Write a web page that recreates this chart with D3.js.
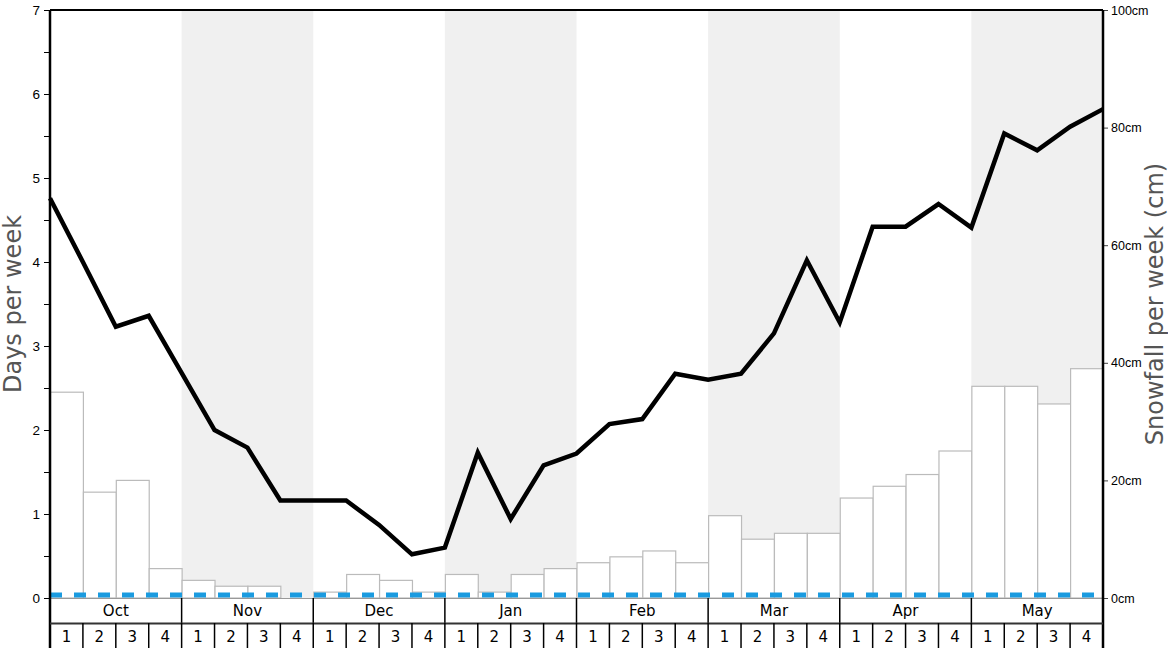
<!DOCTYPE html>
<html>
<head>
<meta charset="utf-8">
<script src="https://cdn.jsdelivr.net/npm/d3@7"></script>
<style>
  body { margin: 0; background: #fff; }
  svg { display: block; font-family: "DejaVu Sans", sans-serif; }
</style>
</head>
<body>
<div id="chart"></div>
<script>
// months and week labels
const months = ["Oct", "Nov", "Dec", "Jan", "Feb", "Mar", "Apr", "May"];
const weekLabels = ["1", "2", "3", "4"];

// snowfall per week (cm), one per week
const snowfall = [
	35, 18, 20, 5,
	3, 2, 2, 0,
	1, 4, 3, 1,
	4, 1, 4, 5,
	6, 7, 8, 6,
	14, 10, 11, 11,
	17, 19, 21, 25,
	36, 36, 33, 39
];

// days per week, one point at each week boundary
const days = [
	4.76, 4.0, 3.23, 3.36, 2.68, 2.0, 1.79, 1.16, 1.16,
	1.16, 0.87, 0.52, 0.6, 1.73, 0.94, 1.58, 1.72,
	2.07, 2.13, 2.67, 2.6, 2.67, 3.15, 4.02, 3.28,
	4.42, 4.42, 4.69, 4.41, 5.53, 5.33, 5.61, 5.82
];

const dayTicks = d3.range(0, 7.01, 0.5);
const cmTicks = [0, 20, 40, 60, 80, 100];

const W = 1168, H = 648;
const mLeft = 50, mRight = 1103, mTop = 10, mBottom = 598;

const svg = d3.select("#chart").append("svg")
	.attr("width", W)
	.attr("height", H);

const weeks = [];
months.forEach((m) => weekLabels.forEach((w) => weeks.push(`${m}-${w}`)));

const x = d3.scaleLinear().domain([0, weeks.length]).range([mLeft, mRight]);
const xBand = d3.scaleBand().domain(weeks).range([mLeft, mRight]).padding(0);
const xMonth = d3.scaleBand().domain(months).range([mLeft, mRight]).padding(0);
const yDays = d3.scaleLinear().domain([0, 7]).range([mBottom, mTop]);
const yCm = d3.scaleLinear().domain([0, 100]).range([mBottom, mTop]);

/*
Alternate month shading
*/
svg.append("g")
	.selectAll("rect")
	.data(months.filter((d, i) => i % 2 == 1))
	.enter()
	.append("rect")
	.attr("x", (d) => xMonth(d))
	.attr("y", mTop)
	.attr("width", xMonth.bandwidth())
	.attr("height", mBottom - mTop)
	.attr("fill", "#f0f0f0");

/*
Snowfall bars
*/
svg.append("g")
	.selectAll("rect")
	.data(snowfall)
	.enter()
	.append("rect")
	.attr("x", (d, i) => xBand(weeks[i]) + 0.5)
	.attr("y", (d) => yCm(d))
	.attr("width", xBand.bandwidth())
	.attr("height", (d) => mBottom - yCm(d))
	.attr("fill", (d) => d > 0 ? "#fff" : "none")
	.attr("stroke", (d) => d > 0 ? "#bbb" : "none")
	.attr("stroke-width", 1.2);

// zero baseline
svg.append("line")
	.attr("x1", mLeft).attr("x2", mRight)
	.attr("y1", mBottom + 0.5).attr("y2", mBottom + 0.5)
	.attr("stroke", "#999")
	.attr("stroke-width", 1);

// blue dashed line near zero
svg.append("line")
	.attr("x1", mLeft).attr("x2", mRight)
	.attr("y1", mBottom - 3).attr("y2", mBottom - 3)
	.attr("stroke", "#1a9be0")
	.attr("stroke-width", 5)
	.attr("stroke-dasharray", "12,12");

/*
Days per week line
*/
const line = d3.line()
	.x((d, i) => x(i))
	.y((d) => yDays(d));
svg.append("path")
	.datum(days)
	.attr("d", line)
	.attr("fill", "none")
	.attr("stroke", "#000")
	.attr("stroke-width", 4.5)
	.attr("stroke-linejoin", "miter");

/*
Axes
*/
const leftAxis = svg.append("g")
	.attr("transform", `translate(${mLeft},0)`)
	.call(d3.axisLeft(yDays)
		.tickValues(dayTicks)
		.tickSize(6)
		.tickPadding(4)
		.tickFormat((d) => d % 1 == 0 ? d : ""));
leftAxis.select(".domain").remove();
leftAxis.selectAll("text").attr("font-size", 13.5).attr("fill", "#000");
leftAxis.selectAll("line").attr("stroke", "#000");

const rightAxis = svg.append("g")
	.attr("transform", `translate(${mRight},0)`)
	.call(d3.axisRight(yCm)
		.tickValues(cmTicks)
		.tickSize(5)
		.tickPadding(3)
		.tickFormat((d) => `${d}cm`));
rightAxis.select(".domain").remove();
rightAxis.selectAll("text").attr("font-size", 12.5).attr("fill", "#000");
rightAxis.selectAll("line").attr("stroke", "#444");

// frame
svg.append("line")
	.attr("x1", mLeft).attr("x2", mRight)
	.attr("y1", mTop).attr("y2", mTop)
	.attr("stroke", "#000").attr("stroke-width", 2);
svg.append("line")
	.attr("x1", mLeft).attr("x2", mLeft)
	.attr("y1", mTop).attr("y2", H)
	.attr("stroke", "#000").attr("stroke-width", 2.5);
svg.append("line")
	.attr("x1", mRight).attr("x2", mRight)
	.attr("y1", mTop).attr("y2", H)
	.attr("stroke", "#000").attr("stroke-width", 2.5);

/*
Month and week rows
*/
const monthRow = svg.append("g");
monthRow.selectAll("line")
	.data(months.slice(1))
	.enter()
	.append("line")
	.attr("x1", (d) => xMonth(d)).attr("x2", (d) => xMonth(d))
	.attr("y1", mBottom).attr("y2", 623)
	.attr("stroke", "#000").attr("stroke-width", 1.5);
monthRow.selectAll("text")
	.data(months)
	.enter()
	.append("text")
	.attr("x", (d) => xMonth(d) + xMonth.bandwidth() / 2)
	.attr("y", 611)
	.attr("dy", "0.35em")
	.attr("text-anchor", "middle")
	.attr("font-size", 15)
	.text((d) => d);

svg.append("line")
	.attr("x1", mLeft).attr("x2", mRight)
	.attr("y1", 623.5).attr("y2", 623.5)
	.attr("stroke", "#333").attr("stroke-width", 2);

const weekRow = svg.append("g");
weekRow.selectAll("line")
	.data(weeks.slice(1))
	.enter()
	.append("line")
	.attr("x1", (d) => xBand(d)).attr("x2", (d) => xBand(d))
	.attr("y1", 623).attr("y2", H)
	.attr("stroke", "#000").attr("stroke-width", 1.5);
weekRow.selectAll("text")
	.data(weeks)
	.enter()
	.append("text")
	.attr("x", (d) => xBand(d) + xBand.bandwidth() / 2)
	.attr("y", 637)
	.attr("dy", "0.35em")
	.attr("text-anchor", "middle")
	.attr("font-size", 15)
	.text((d) => d.split("-")[1]);

/*
Axis titles
*/
svg.append("text")
	.attr("transform", `translate(21,${(mTop + mBottom) / 2}) rotate(-90)`)
	.attr("text-anchor", "middle")
	.attr("font-size", 24)
	.attr("fill", "#555")
	.text("Days per week");
svg.append("text")
	.attr("transform", `translate(1163,${(mTop + mBottom) / 2}) rotate(-90)`)
	.attr("text-anchor", "middle")
	.attr("font-size", 24)
	.attr("fill", "#555")
	.text("Snowfall per week (cm)");
</script>
</body>
</html>
